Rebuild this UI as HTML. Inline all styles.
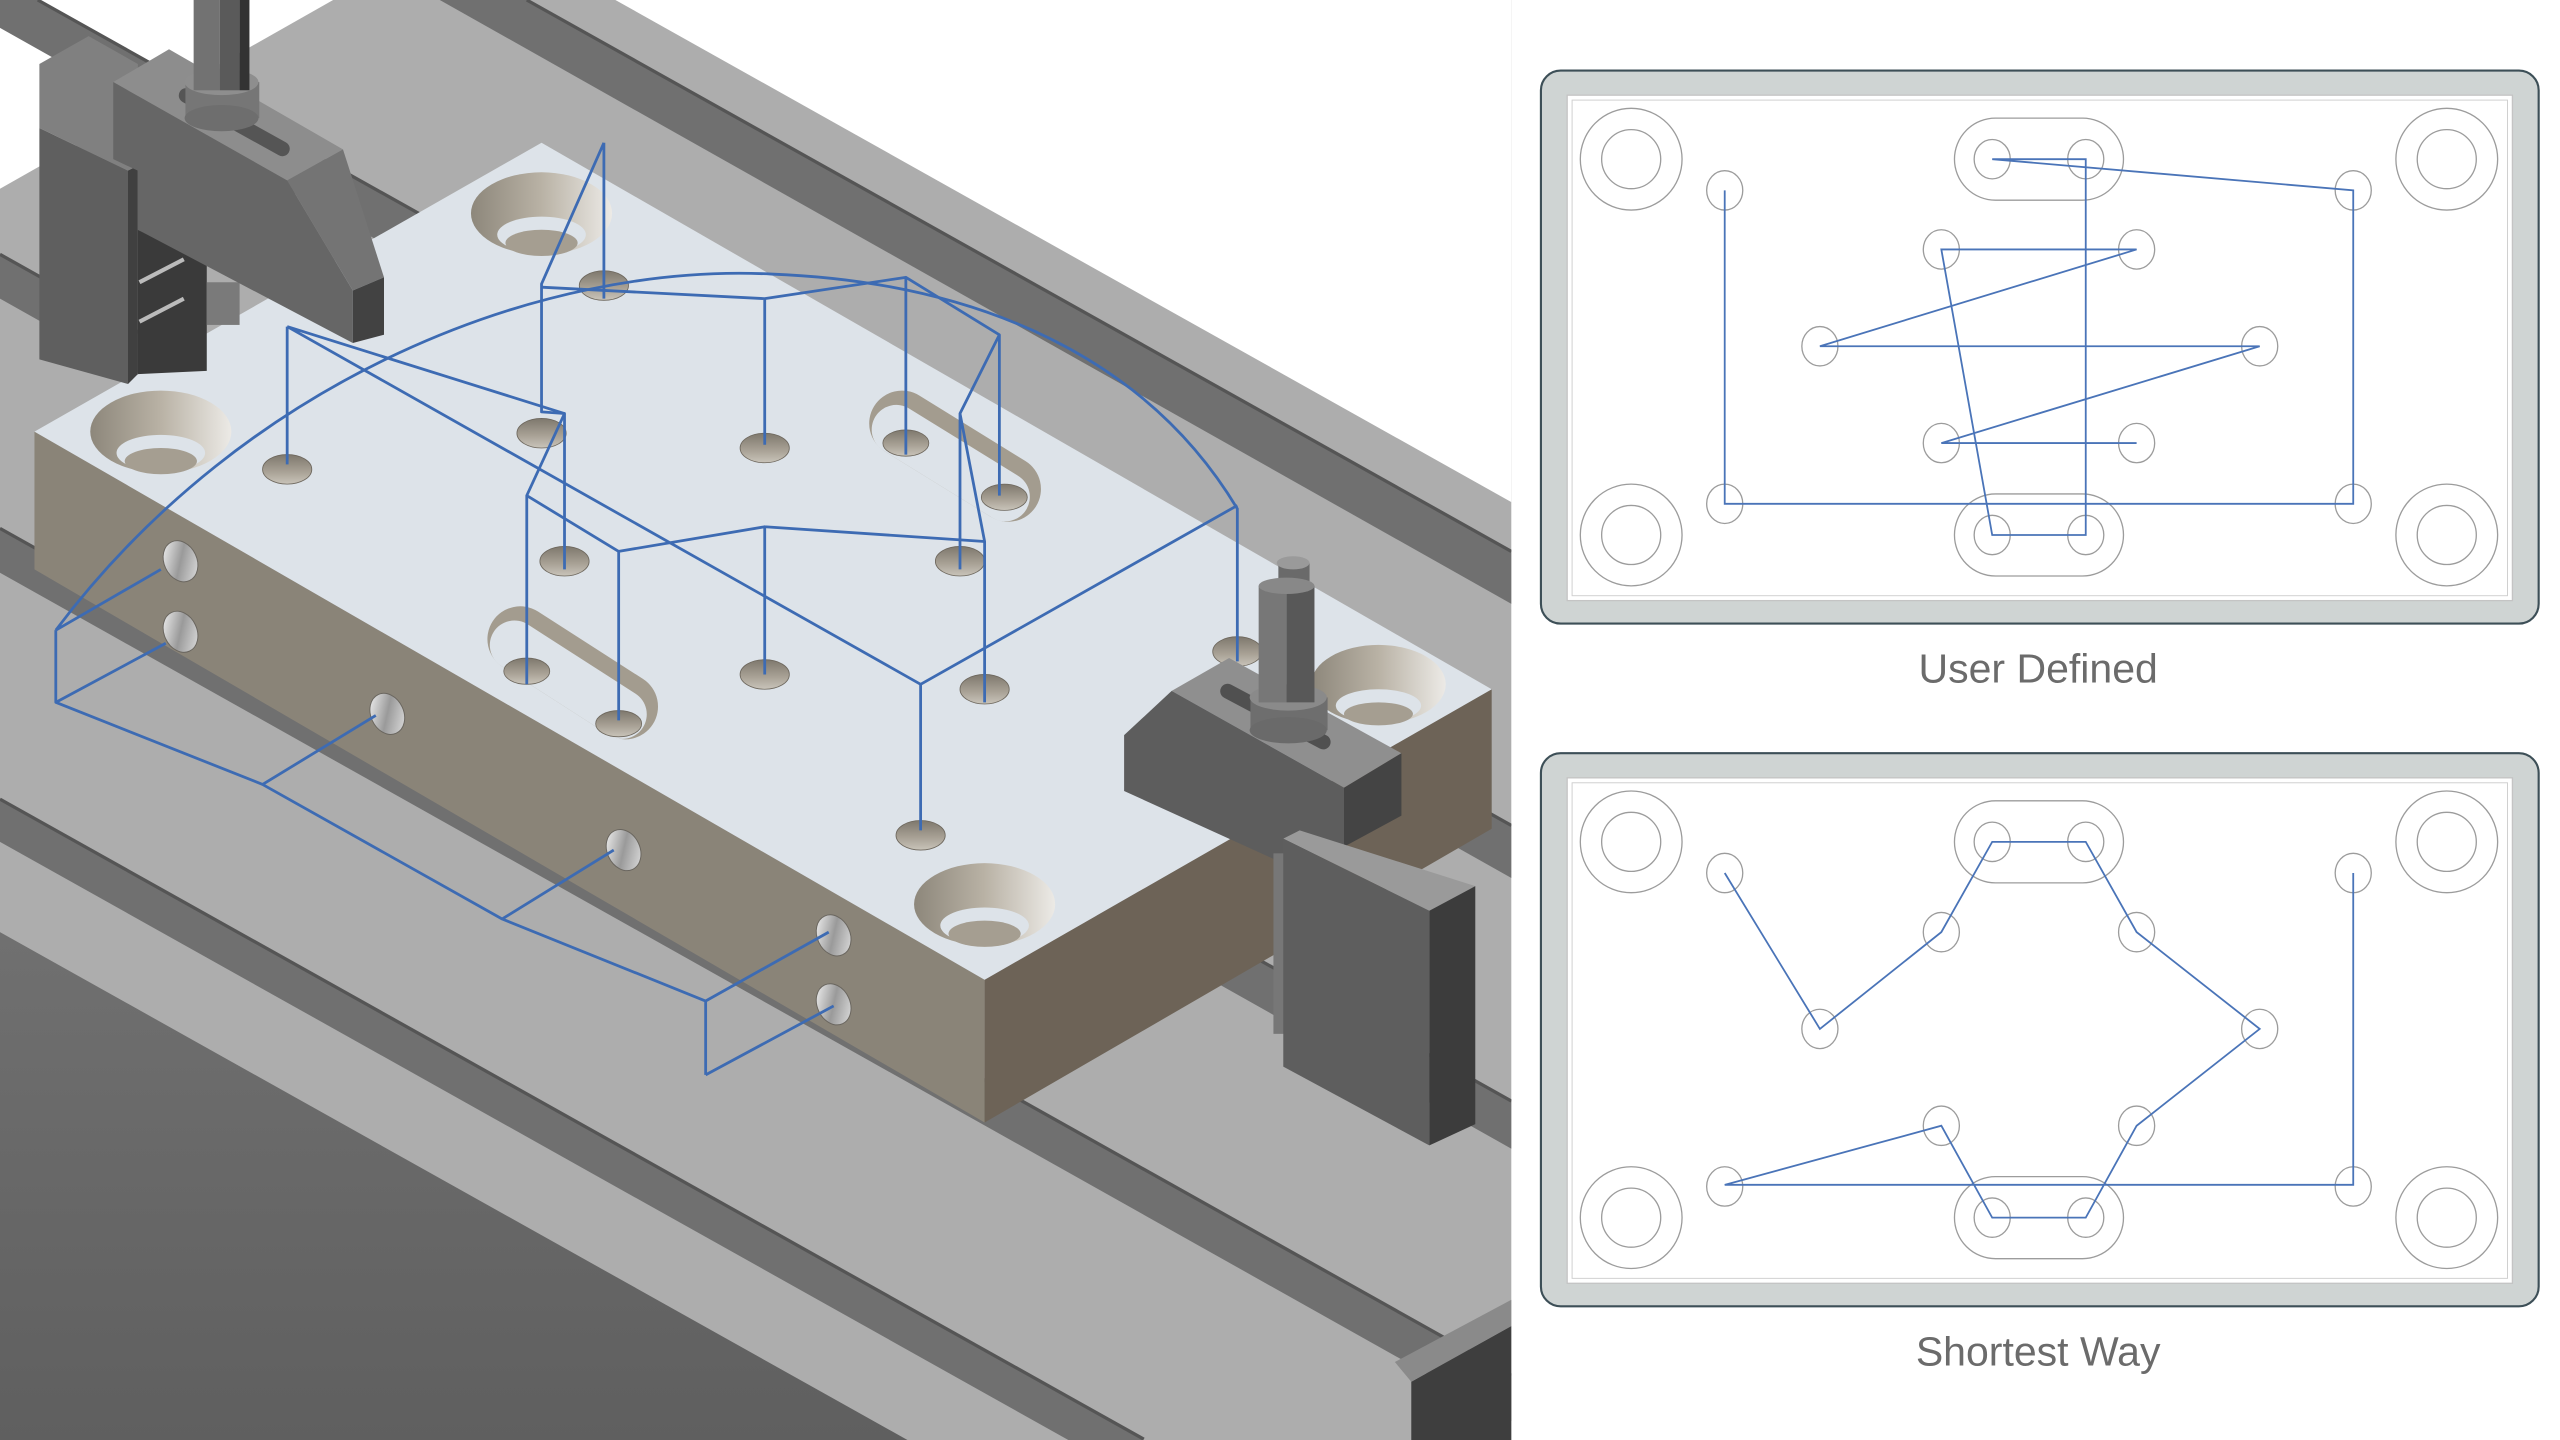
<!DOCTYPE html>
<html><head><meta charset="utf-8"><style>
html,body{margin:0;padding:0;background:#fff;width:2560px;height:1440px;overflow:hidden;}
svg{display:block;position:absolute;left:0;top:0;}
text{font-family:"Liberation Sans",sans-serif;}
</style></head><body>
<svg width="2560" height="1440" viewBox="0 0 1560 877.5" xmlns="http://www.w3.org/2000/svg">
<defs>
<clipPath id="lc"><rect x="0" y="0" width="921" height="877.5"/></clipPath>
<linearGradient id="hole" x1="0" y1="0" x2="0" y2="1"><stop offset="0" stop-color="#7e786d"/><stop offset="0.6" stop-color="#aaa397"/><stop offset="1" stop-color="#c9c4ba"/></linearGradient>
<linearGradient id="cb" x1="0" y1="0" x2="1" y2="0"><stop offset="0" stop-color="#8d877b"/><stop offset="0.5" stop-color="#b9b2a5"/><stop offset="1" stop-color="#eceae6"/></linearGradient>
<linearGradient id="sh" x1="0" y1="0" x2="1" y2="1"><stop offset="0" stop-color="#ffffff"/><stop offset="0.5" stop-color="#9a9a9a"/><stop offset="1" stop-color="#e8e8e8"/></linearGradient>
<linearGradient id="dk" x1="0" y1="0" x2="0" y2="1"><stop offset="0" stop-color="#707070"/><stop offset="1" stop-color="#5f5f5f"/></linearGradient>
</defs>
<rect width="1560" height="877.5" fill="#fff"/>
<g clip-path="url(#lc)">
<rect x="0" y="0" width="921" height="877.5" fill="#adadad"/>
<polygon points="375,0 921,0 921,306" fill="#fff"/>
<polygon points="0,0 203,0 0,115" fill="#fff"/>
<g fill="#707070">
<polygon points="321,0 921,336 921,368 268,0"/>
<polygon points="23,0 921,503 921,535 0,17 0,0"/>
<polygon points="0,155 921,671 921,700 0,182"/>
<polygon points="0,322 921,838 921,866 0,349"/>
<polygon points="0,487 697,877.5 651,877.5 0,513"/>
</g>
<g stroke="#555" stroke-width="2">
<line x1="321" y1="0" x2="921" y2="336"/><line x1="23" y1="0" x2="921" y2="503"/><line x1="0" y1="155" x2="921" y2="671"/><line x1="0" y1="322" x2="921" y2="838"/><line x1="0" y1="487" x2="697" y2="877"/>
</g>
<polygon points="0,568 553,877.5 0,877.5" fill="url(#dk)"/>
<polygon points="860,842 921,808 921,877.5 860,877.5" fill="#3e3e3e"/>
<polygon points="850,830 921,792 921,808 860,842" fill="#8a8a8a"/>

<polygon points="21,263 600,597 600,684 21,347" fill="#8a8478"/>
<polygon points="600,597 909,420 909,505 600,684" fill="#6d6357"/>
<polygon points="330,87 909,420 600,597 21,263" fill="#dde3e9"/>
<g fill="url(#sh)" stroke="#6a665f" stroke-width="0.6">
<ellipse cx="110" cy="342" rx="10" ry="13" transform="rotate(-25 110 342)"/>
<ellipse cx="110" cy="385" rx="10" ry="13" transform="rotate(-25 110 385)"/>
<ellipse cx="236" cy="435" rx="10" ry="13" transform="rotate(-25 236 435)"/>
<ellipse cx="380" cy="518" rx="10" ry="13" transform="rotate(-25 380 518)"/>
<ellipse cx="508" cy="570" rx="10" ry="13" transform="rotate(-25 508 570)"/>
<ellipse cx="508" cy="612" rx="10" ry="13" transform="rotate(-25 508 612)"/>
</g>
<g>
<ellipse cx="330" cy="130" rx="43" ry="25" fill="url(#cb)"/><ellipse cx="330" cy="143" rx="27" ry="11" fill="#dde3e9"/><ellipse cx="330" cy="148" rx="22" ry="8" fill="#a59e91"/>
<ellipse cx="98" cy="263" rx="43" ry="25" fill="url(#cb)"/><ellipse cx="98" cy="276" rx="27" ry="11" fill="#dde3e9"/><ellipse cx="98" cy="281" rx="22" ry="8" fill="#a59e91"/>
<ellipse cx="600" cy="551" rx="43" ry="25" fill="url(#cb)"/><ellipse cx="600" cy="564" rx="27" ry="11" fill="#dde3e9"/><ellipse cx="600" cy="569" rx="22" ry="8" fill="#a59e91"/>
<ellipse cx="840" cy="417" rx="41" ry="24" fill="url(#cb)"/><ellipse cx="840" cy="430" rx="26" ry="10" fill="#dde3e9"/><ellipse cx="840" cy="435" rx="21" ry="7" fill="#a59e91"/>
</g>
<g transform="rotate(31.7 582 278)">
<rect x="524" y="258" width="116" height="40" rx="20" fill="#a39c8f"/>
<rect x="528" y="268" width="108" height="30" rx="15" fill="#dde3e9"/>
</g>
<g transform="rotate(32.7 349 410)">
<rect x="291" y="390" width="116" height="40" rx="20" fill="#a39c8f"/>
<rect x="295" y="400" width="108" height="30" rx="15" fill="#dde3e9"/>
</g>
<g fill="url(#hole)" stroke="#6d675d" stroke-width="0.5">
<ellipse cx="368" cy="174" rx="15" ry="9"/><ellipse cx="175" cy="286" rx="15" ry="9"/><ellipse cx="330" cy="264" rx="15" ry="9"/>
<ellipse cx="466" cy="273" rx="15" ry="9"/><ellipse cx="344" cy="342" rx="15" ry="9"/><ellipse cx="585" cy="342" rx="15" ry="9"/>
<ellipse cx="466" cy="411" rx="15" ry="9"/><ellipse cx="600" cy="420" rx="15" ry="9"/><ellipse cx="561" cy="509" rx="15" ry="9"/>
<ellipse cx="754" cy="397" rx="15" ry="9"/><ellipse cx="552" cy="270" rx="14" ry="8"/><ellipse cx="612" cy="303" rx="14" ry="8"/>
<ellipse cx="321" cy="409" rx="14" ry="8"/><ellipse cx="377" cy="441" rx="14" ry="8"/>
</g>

<polygon points="24,39 54,22 84,39 84,101 78,104 24,78" fill="#808080"/>
<polygon points="24,78 78,104 78,234 24,219" fill="#5f5f5f"/>
<polygon points="78,104 84,101 84,228 78,234" fill="#404040"/>
<polygon points="84,140 126,160 126,226 84,228" fill="#3a3a3a"/>
<line x1="85" y1="172" x2="112" y2="158" stroke="#bbb" stroke-width="2.5"/>
<line x1="85" y1="196" x2="112" y2="182" stroke="#bbb" stroke-width="2.5"/>
<rect x="126" y="172" width="20" height="26" fill="#7a7a7a"/>
<polygon points="69,50 103,30 209,91 175,110" fill="#8d8d8d"/>
<polygon points="69,50 175,110 215,177 215,209 84,140 84,104 69,97" fill="#666"/>
<polygon points="175,110 209,91 234,169 215,177" fill="#747474"/>
<polygon points="215,177 234,169 234,204 215,209" fill="#424242"/>
<rect x="105" y="70" width="76" height="9" rx="4.5" fill="#555" transform="rotate(29 143 74)"/>
<rect x="113" y="50" width="45" height="22" fill="#767676"/>
<ellipse cx="135" cy="72" rx="22.5" ry="8" fill="#6e6e6e"/>
<ellipse cx="135" cy="50" rx="22.5" ry="8" fill="#8e8e8e"/>
<rect x="118" y="0" width="16" height="55" fill="#727272"/>
<rect x="134" y="0" width="12" height="55" fill="#5a5a5a"/>
<rect x="146" y="0" width="6" height="55" fill="#333"/>

<polygon points="714,421 749,401 854,459 819,480" fill="#8f8f8f"/>
<polygon points="685,448 714,421 819,480 819,516 784,527 685,482" fill="#5d5d5d"/>
<polygon points="819,480 854,459 854,497 819,516" fill="#444"/>
<rect x="740" y="432" width="75" height="9" rx="4.5" fill="#505050" transform="rotate(28 777 436)"/>
<rect x="776" y="520" width="7" height="110" fill="#777"/>
<polygon points="782,511 792,506 899,540 871,555" fill="#9a9a9a"/>
<polygon points="782,511 871,555 871,698 782,650" fill="#5e5e5e"/>
<polygon points="871,555 899,540 899,685 871,698" fill="#3c3c3c"/>
<rect x="762" y="425" width="47" height="20" fill="#6e6e6e"/>
<ellipse cx="785" cy="445" rx="23.5" ry="8" fill="#6a6a6a"/>
<ellipse cx="785" cy="425" rx="23.5" ry="8" fill="#8a8a8a"/>
<rect x="779" y="343" width="19" height="17" fill="#6a6a6a"/>
<ellipse cx="788" cy="343" rx="10" ry="4" fill="#9a9a9a"/>
<rect x="767" y="357" width="17" height="71" fill="#777"/>
<rect x="784" y="357" width="17" height="71" fill="#585858"/>
<ellipse cx="784" cy="357" rx="17" ry="5" fill="#888"/>

<g fill="none" stroke="#3d6bb3" stroke-width="1.7" stroke-linejoin="round">
<path d="M368,87 V182 M368,87 L330,173 V251 L344,252 V347"/>
<path d="M330,175 L466,182 L552,169 L609,204 V302 M466,182 V271 M552,169 V277"/>
<path d="M609,204 L585,252 V347 M585,252 L600,330 V428"/>
<path d="M344,252 L321,302 V417 M321,302 L377,336 V439 M377,336 L466,321 V411 M466,321 L600,330"/>
<path d="M34,384 C150,230 330,160 470,167 C600,172 700,220 754,310 V403 M754,308 L561,417 V506"/>
<path d="M175,199 V283 M175,199 L344,252 M175,199 L561,417"/>
<path d="M34,384 V428 L160,478 L306,560 L430,610 V655 M34,384 L98,347 M34,428 L101,392 M160,478 L229,436 M306,560 L374,518 M430,610 L505,568 M430,655 L508,613"/>
</g>
</g>

<g id="p1">
<rect x="939" y="43" width="608" height="337" rx="12" fill="#cfd4d3" stroke="#3d4f57" stroke-width="1.3"/>
<rect x="955" y="58" width="576" height="308" fill="#fff" stroke="#c4c4c4" stroke-width="0.8"/>
<rect x="958" y="61" width="570" height="302" fill="none" stroke="#d0d0d0" stroke-width="0.6"/>
<g fill="none" stroke="#9c9c9c" stroke-width="0.8">
<circle cx="994" cy="97" r="31"/><circle cx="994" cy="97" r="18"/>
<circle cx="1491" cy="97" r="31"/><circle cx="1491" cy="97" r="18"/>
<circle cx="994" cy="326" r="31"/><circle cx="994" cy="326" r="18"/>
<circle cx="1491" cy="326" r="31"/><circle cx="1491" cy="326" r="18"/>
<rect x="1191" y="72" width="103" height="50" rx="25"/>
<rect x="1191" y="301" width="103" height="50" rx="25"/>
<ellipse cx="1214" cy="97" rx="11" ry="12"/><ellipse cx="1271" cy="97" rx="11" ry="12"/>
<ellipse cx="1214" cy="326" rx="11" ry="12"/><ellipse cx="1271" cy="326" rx="11" ry="12"/>
<ellipse cx="1051" cy="116" rx="11" ry="12"/><ellipse cx="1434" cy="116" rx="11" ry="12"/>
<ellipse cx="1051" cy="307" rx="11" ry="12"/><ellipse cx="1434" cy="307" rx="11" ry="12"/>
<ellipse cx="1183" cy="152" rx="11" ry="12"/><ellipse cx="1302" cy="152" rx="11" ry="12"/>
<ellipse cx="1109" cy="211" rx="11" ry="12"/><ellipse cx="1377" cy="211" rx="11" ry="12"/>
<ellipse cx="1183" cy="270" rx="11" ry="12"/><ellipse cx="1302" cy="270" rx="11" ry="12"/>
</g>
</g>
<polyline fill="none" stroke="#4a74b8" stroke-width="1.1" points="1051,116 1051,307 1434,307 1434,116 1214,97 1271,97 1271,326 1214,326 1183,152 1302,152 1109,211 1377,211 1183,270 1302,270"/>
<text x="1242" y="416" font-size="25" fill="#6b6b6b" text-anchor="middle">User Defined</text>

<use href="#p1" transform="translate(0,416)"/>
<polyline fill="none" stroke="#4a74b8" stroke-width="1.1" points="1051,532 1109,627 1183,568 1214,513 1271,513 1302,568 1377,627 1302,686 1271,742 1214,742 1183,686 1051,722 1434,722 1434,532"/>
<text x="1242" y="832" font-size="25" fill="#6b6b6b" text-anchor="middle">Shortest Way</text>
</svg>
</body></html>
